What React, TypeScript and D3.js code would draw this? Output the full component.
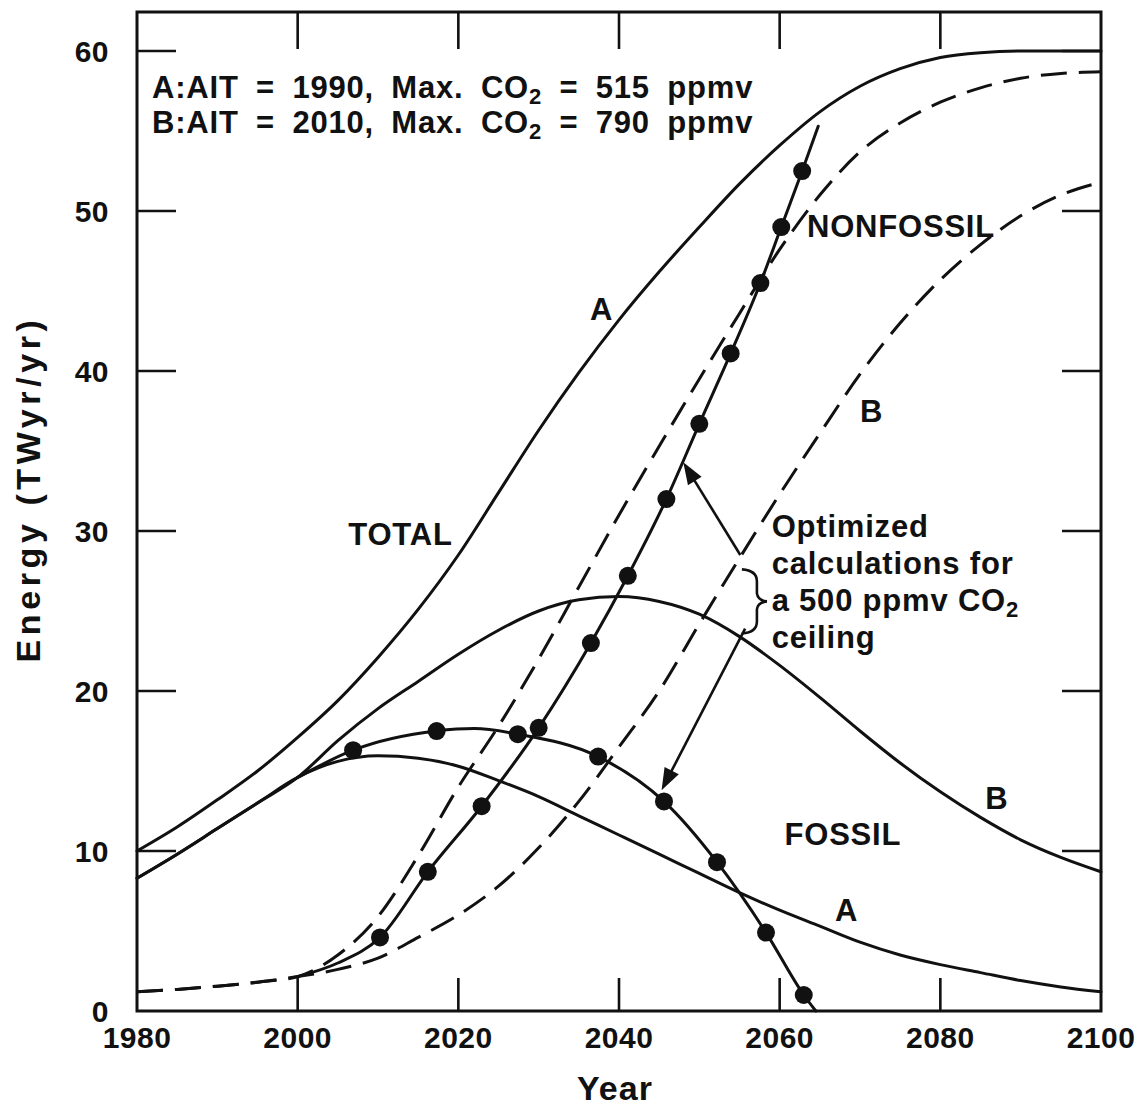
import React from 'react';
import * as d3 from 'd3';

// ---------- data ----------
const xTickValues = [1980, 2000, 2020, 2040, 2060, 2080, 2100];
const yTickValues = [0, 10, 20, 30, 40, 50, 60];

const totalYears = [1980, 1985, 1990, 1995, 2000, 2005, 2010, 2015, 2020, 2025, 2030, 2035, 2040, 2045, 2050, 2055, 2060, 2065, 2070, 2075, 2080, 2085, 2090, 2095, 2100];
const totalValues = [10.0, 11.5, 13.2, 15.0, 17.1, 19.4, 22.1, 25.1, 28.5, 32.4, 36.3, 39.9, 43.2, 46.2, 49.0, 51.7, 54.1, 56.2, 57.8, 58.9, 59.6, 59.9, 60.0, 60.0, 60.0];

const earlyYears = [1980, 1985, 1990, 1995];
const fossilEarly = [8.3, 9.8, 11.4, 13.0];
const nonfossilEarly = [1.2, 1.35, 1.55, 1.8];

const branchYears = [2000, 2005, 2010, 2015, 2020, 2025, 2030, 2035, 2040, 2045, 2050, 2055, 2060, 2065, 2070, 2075, 2080, 2085, 2090, 2095, 2100];
const fossilA = [14.6, 15.6, 15.95, 15.8, 15.3, 14.4, 13.4, 12.2, 11.0, 9.8, 8.6, 7.4, 6.3, 5.3, 4.3, 3.5, 2.9, 2.4, 1.9, 1.5, 1.2];
const fossilB = [14.6, 16.9, 18.9, 20.6, 22.3, 23.8, 25.0, 25.7, 25.9, 25.6, 24.8, 23.4, 21.6, 19.6, 17.5, 15.5, 13.7, 12.1, 10.7, 9.6, 8.7];
const nonfossilA = [2.15, 3.5, 5.9, 9.7, 14.0, 17.8, 22.0, 26.5, 31.0, 35.3, 39.5, 43.6, 47.6, 51.0, 53.7, 55.5, 56.8, 57.7, 58.3, 58.6, 58.7];
const nonfossilB = [2.15, 2.6, 3.3, 4.6, 6.0, 7.8, 10.2, 13.1, 16.5, 20.0, 24.2, 28.3, 32.3, 36.1, 39.8, 43.0, 45.7, 47.9, 49.7, 51.0, 51.8];

// optimized (500 ppmv ceiling) curves, with the plotted dots flagged
const optNonfossilYears = [2000, 2005, 2010.25, 2016.2, 2022.9, 2030.0, 2036.5, 2041.1, 2045.9, 2050.0, 2053.9, 2057.6, 2060.2, 2062.8, 2064.8];
const optNonfossilValues = [2.15, 3.0, 4.6, 8.7, 12.8, 17.7, 23.0, 27.2, 32.0, 36.7, 41.1, 45.5, 49.0, 52.5, 55.3];
const optNonfossilDots = [false, false, true, true, true, true, true, true, true, true, true, true, true, true, false];

const optFossilYears = [2000, 2006.9, 2017.3, 2022, 2027.4, 2037.4, 2045.6, 2052.2, 2058.3, 2063.0, 2064.5];
const optFossilValues = [14.6, 16.3, 17.5, 17.65, 17.3, 15.9, 13.1, 9.3, 4.9, 1.0, 0];
const optFossilDots = [false, true, true, false, true, true, true, true, true, true, false];

const legendLines = [
  { pre: 'A:AIT = 1990, Max. CO', post: ' = 515 ppmv' },
  { pre: 'B:AIT = 2010, Max. CO', post: ' = 790 ppmv' },
];
const noteLines = ['Optimized', 'calculations for', 'a 500 ppmv CO', 'ceiling'];

// curve labels: [text, year, value]
const curveLabels: [string, number, number][] = [
  ['TOTAL', 2006.3, 29.1],
  ['A', 2036.4, 43.2],
  ['NONFOSSIL', 2063.4, 48.4],
  ['B', 2070.0, 36.8],
  ['B', 2085.6, 12.6],
  ['FOSSIL', 2060.6, 10.4],
  ['A', 2066.9, 5.6],
];

// arrows [fromYear, fromValue, toYear, toValue]
const arrows: [number, number, number, number][] = [
  [2055.1, 28.5, 2048.0, 34.3],
  [2055.7, 23.9, 2045.3, 13.8],
];

// ---------- chart ----------
const FONT = "'Liberation Sans', Arial, Helvetica, sans-serif";
const INK = '#111';

function zip(xs: number[], ys: number[]): [number, number][] {
  return xs.map((v, i) => [v, ys[i]] as [number, number]);
}

export default function App() {
  const x = d3.scaleLinear().domain([1980, 2100]).range([137, 1101]);
  const y = d3.scaleLinear().domain([0, 62.44]).range([1011, 12]);
  const [x0, x1] = x.range();
  const [y0, y1] = y.range();

  const line = d3
    .line<[number, number]>()
    .x((d) => x(d[0]))
    .y((d) => y(d[1]))
    .curve(d3.curveMonotoneX);

  const total = zip(totalYears, totalValues);
  const fA = zip(earlyYears.concat(branchYears), fossilEarly.concat(fossilA));
  const fB = zip(earlyYears.concat(branchYears), fossilEarly.concat(fossilB));
  const nA = zip(earlyYears.concat(branchYears), nonfossilEarly.concat(nonfossilA));
  const nB = zip(earlyYears.concat(branchYears), nonfossilEarly.concat(nonfossilB));
  const oN = zip(optNonfossilYears, optNonfossilValues);
  const oF = zip(optFossilYears, optFossilValues);

  const tickLen = 37;
  const innerX = xTickValues.slice(1, -1);
  const innerY = yTickValues.slice(1);

  const arrowHead = (a: [number, number, number, number]) => {
    const fx = x(a[0]), fy = y(a[1]), tx = x(a[2]), ty = y(a[3]);
    const dx = tx - fx, dy = ty - fy;
    const L = Math.hypot(dx, dy);
    const ux = dx / L, uy = dy / L;
    const hl = 22, hw = 8;
    const bx = tx - ux * hl, by = ty - uy * hl;
    return {
      line: `M${fx},${fy}L${bx + ux * 4},${by + uy * 4}`,
      head: `M${tx},${ty}L${bx - uy * hw},${by + ux * hw}L${bx + uy * hw},${by - ux * hw}Z`,
    };
  };

  // brace anchor from data coords
  const bx = x(2055.3);
  const bt = y(27.6);
  const bb = y(23.6);
  const bm = (bt + bb) / 2;
  const brace = `M${bx},${bt} Q${bx + 15},${bt + 1} ${bx + 15},${bt + 12} L${bx + 15},${bm - 8} Q${bx + 16},${bm - 1} ${bx + 25},${bm} Q${bx + 16},${bm + 1} ${bx + 15},${bm + 8} L${bx + 15},${bb - 12} Q${bx + 15},${bb - 1} ${bx},${bb}`;

  const noteX = x(2059.0);
  const noteY = y(29.6);

  return (
    <svg
      width={1142}
      height={1110}
      style={{ position: 'absolute', left: 0, top: 0, background: '#fff' }}
      fontFamily={FONT}
      fontWeight="bold"
    >
      <rect x={0} y={0} width={1142} height={1110} fill="#fff" />

      {/* frame */}
      <rect x={x0} y={y1} width={x1 - x0} height={y0 - y1} fill="none" stroke={INK} strokeWidth={3} />

      {/* inward ticks on all sides */}
      {innerX.map((t) => (
        <g key={'xt' + t} stroke={INK} strokeWidth={2.6}>
          <line x1={x(t)} x2={x(t)} y1={y0} y2={y0 - tickLen + 4} />
          <line x1={x(t)} x2={x(t)} y1={y1} y2={y1 + tickLen} />
        </g>
      ))}
      {innerY.map((t) => (
        <g key={'yt' + t} stroke={INK} strokeWidth={2.6}>
          <line x1={x0} x2={x0 + tickLen + 2} y1={y(t)} y2={y(t)} />
          <line x1={x1} x2={x1 - tickLen - 2} y1={y(t)} y2={y(t)} />
        </g>
      ))}

      {/* tick labels */}
      {xTickValues.map((t) => (
        <text key={'xl' + t} x={x(t)} y={1048} textAnchor="middle" fontSize={30} letterSpacing={0.5} fill={INK}>
          {t}
        </text>
      ))}
      {yTickValues.map((t) => (
        <text key={'yl' + t} x={109} y={y(t) + 11} textAnchor="end" fontSize={30} letterSpacing={0.5} fill={INK}>
          {t}
        </text>
      ))}

      {/* axis titles */}
      <text x={615} y={1100} textAnchor="middle" fontSize={34} letterSpacing={1} fill={INK}>
        Year
      </text>
      <text
        transform={`translate(40,${489}) rotate(-90)`}
        textAnchor="middle"
        fontSize={34}
        letterSpacing={4.6}
        fill={INK}
      >
        Energy (TWyr/yr)
      </text>

      {/* curves */}
      <g fill="none" stroke={INK} strokeWidth={3} strokeLinecap="round">
        <path d={line(total) || ''} />
        <path d={line(fA) || ''} />
        <path d={line(fB) || ''} />
        <path d={line(nA) || ''} strokeDasharray="26 12" strokeLinecap="butt" />
        <path d={line(nB) || ''} strokeDasharray="26 12" strokeLinecap="butt" />
        <path d={line(oN) || ''} />
        <path d={line(oF) || ''} />
      </g>

      {/* dots */}
      {oN.map((d, i) =>
        optNonfossilDots[i] ? <circle key={'dn' + i} cx={x(d[0])} cy={y(d[1])} r={9} fill={INK} /> : null
      )}
      {oF.map((d, i) =>
        optFossilDots[i] ? <circle key={'df' + i} cx={x(d[0])} cy={y(d[1])} r={9} fill={INK} /> : null
      )}

      {/* arrows */}
      {arrows.map((a, i) => {
        const h = arrowHead(a);
        return (
          <g key={'ar' + i}>
            <path d={h.line} stroke={INK} strokeWidth={2.6} fill="none" />
            <path d={h.head} fill={INK} />
          </g>
        );
      })}

      {/* brace */}
      <path d={brace} fill="none" stroke={INK} strokeWidth={2.6} />

      {/* curve labels */}
      {curveLabels.map((l, i) => (
        <text key={'cl' + i} x={x(l[1])} y={y(l[2])} fontSize={31} letterSpacing={0.8} fill={INK}>
          {l[0]}
        </text>
      ))}

      {/* legend */}
      {legendLines.map((l, i) => (
        <text key={'lg' + i} x={152} y={98 + i * 35} fontSize={31} letterSpacing={0.8} wordSpacing={8} fill={INK}>
          {l.pre}
          <tspan fontSize={22} dy={6}>2</tspan>
          <tspan dy={-6}>{l.post}</tspan>
        </text>
      ))}

      {/* annotation text */}
      {noteLines.map((t, i) => (
        <text key={'nt' + i} x={noteX} y={noteY + i * 36.7} fontSize={31} letterSpacing={0.8} fill={INK}>
          {t}
          {i === 2 ? <tspan fontSize={22} dy={6}>2</tspan> : null}
        </text>
      ))}
    </svg>
  );
}
